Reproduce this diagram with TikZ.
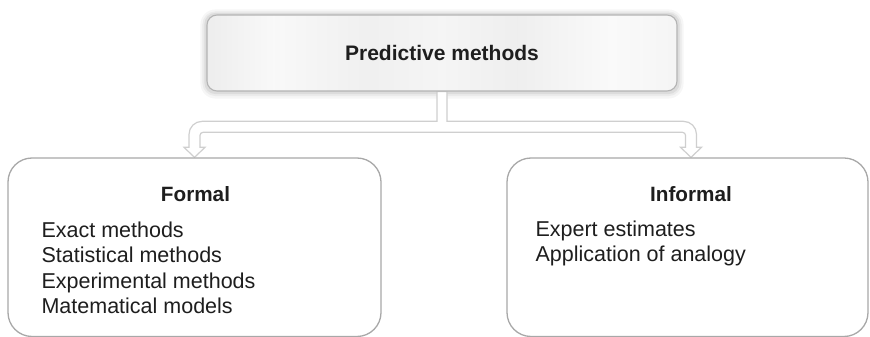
\documentclass[tikz,border=0pt]{standalone}
\usepackage{fontspec}
\setmainfont{Liberation Sans}
\usetikzlibrary{calc}
\pgfdeclarelayer{background}
\pgfsetlayers{background,main}
\definecolor{inkdark}{HTML}{1E1E1E}
\definecolor{boxframe}{HTML}{A8A8A8}
\definecolor{headframe}{HTML}{B4B4B4}
\definecolor{arrowframe}{HTML}{CFCFCF}
\definecolor{haloA}{HTML}{F6F6F6}
\definecolor{haloB}{HTML}{EBEBEB}
\definecolor{haloC}{HTML}{DCDCDC}
% brushed light-grey fill for the heading box
\pgfdeclarehorizontalshading{brushed}{100bp}{%
  color(0bp)=(black!7); color(25bp)=(black!7); color(32bp)=(black!2.5);
  color(42bp)=(black!6); color(50bp)=(black!4); color(58bp)=(black!6.5);
  color(68bp)=(black!2); color(75bp)=(black!4); color(100bp)=(black!4)}
\begin{document}
\begin{tikzpicture}[x=1pt,y=1pt,
  headbox/.style={rounded corners=10pt, minimum width=470pt, minimum height=76pt,
    inner sep=0pt, draw=headframe, line width=1.1pt, shading=brushed,
    font=\bfseries\fontsize{21}{25}\selectfont, text=inkdark},
  halo/.style={rounded corners=#1},
  groupbox/.style={rounded corners=24pt, minimum height=178.5pt, inner sep=0pt,
    draw=boxframe, line width=1.3pt, fill=white},
  grouptitle/.style={font=\bfseries\fontsize{20.7}{25}\selectfont, text=inkdark, inner sep=0pt},
  itemlist/.style={font=\fontsize{21.5}{25.6}\selectfont, text=inkdark, align=left,
    inner sep=0pt, anchor=north west},
  fork/.style={draw=arrowframe, line width=1.2pt, fill=white, line join=miter}
]
\useasboundingbox (0,0) rectangle (870,337);

% the three boxes
\node[headbox] (top) at (442,284) {Predictive methods};
\node[groupbox, minimum width=373pt] (formal) at (194.5,89.75) {};
\node[groupbox, minimum width=361pt] (informal) at (687.5,89.75) {};

% contents of the two group boxes
\node[grouptitle] (formalT) at ($(formal.north)+(1,-37)$) {Formal};
\node[itemlist] (formalL) at ($(formal.north west)+(34,-64)$)
  {Exact methods\\Statistical methods\\Experimental methods\\Matematical models};
\node[grouptitle] (informalT) at ($(informal.north)+(3.5,-37)$) {Informal};
\node[itemlist] (informalL) at ($(informal.north west)+(29,-63)$)
  {Expert estimates\\Application of analogy};

\begin{pgfonlayer}{background}
% soft shadow round the heading box, in opaque greys
\fill[halo=15pt, haloA] ($(top.south west)+(-6,-7)$) rectangle ($(top.north east)+(6,5)$);
\fill[halo=13pt, haloB] ($(top.south west)+(-4,-4.5)$) rectangle ($(top.north east)+(4,3)$);
\fill[halo=11pt, haloC] ($(top.south west)+(-2,-2.5)$) rectangle ($(top.north east)+(2,1.5)$);
% hollow forked arrow from the heading down to both groups
\draw[fork] let \p1=(top.south), \p2=(formal.north), \p3=($(informal.north)+(3.5,0)$) in
  (\x1-5pt,\y1) -- (\x1-5pt,\y2+36pt)
  -- (\x2+7.5pt,\y2+36pt) arc[start angle=90, end angle=180, radius=13pt]
  -- (\x2-5.5pt,\y2+10pt) -- (\x2-10.5pt,\y2+10pt) -- (\x2,\y2)
  -- (\x2+10.5pt,\y2+10pt) -- (\x2+5.5pt,\y2+10pt)
  -- (\x2+5.5pt,\y2+22pt) arc[start angle=180, end angle=90, radius=3pt]
  -- (\x3-8.5pt,\y2+25pt) arc[start angle=90, end angle=0, radius=3pt]
  -- (\x3-5.5pt,\y2+10pt) -- (\x3-10.5pt,\y2+10pt) -- (\x3,\y3)
  -- (\x3+10.5pt,\y2+10pt) -- (\x3+5.5pt,\y2+10pt)
  -- (\x3+5.5pt,\y2+23pt) arc[start angle=0, end angle=90, radius=13pt]
  -- (\x1+5pt,\y2+36pt) -- (\x1+5pt,\y1) -- cycle;
\end{pgfonlayer}
\end{tikzpicture}
\end{document}
